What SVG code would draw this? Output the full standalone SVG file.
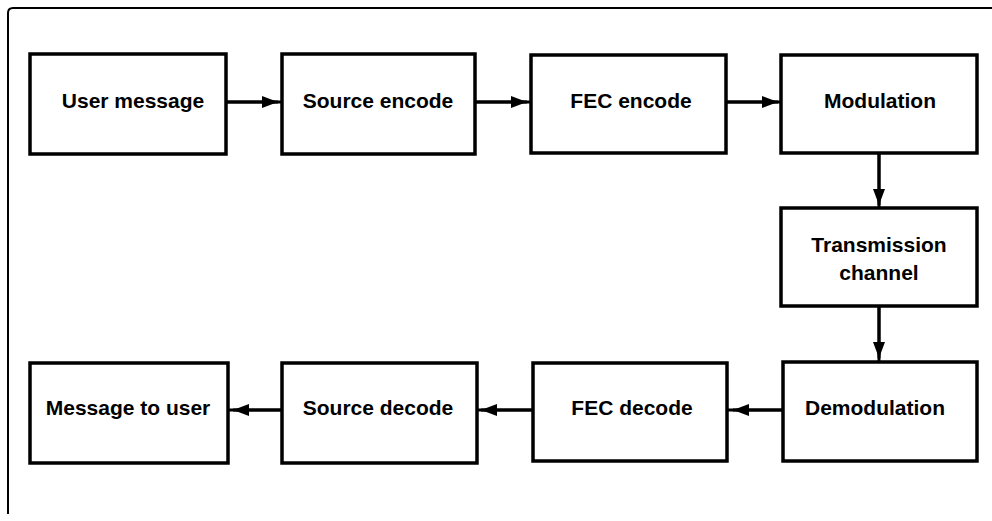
<svg xmlns="http://www.w3.org/2000/svg" width="992" height="521" viewBox="0 0 992 521">
<style>
.box{fill:#fff;stroke:#000;stroke-width:3.5}
.lbl{font-family:"Liberation Sans",Arial,sans-serif;font-size:21px;font-weight:bold;fill:#000;text-anchor:middle}
.ln{stroke:#000;stroke-width:3;fill:none}
.frame{stroke:#000;stroke-width:2;fill:none}
</style>
<defs>
<marker id="ah" viewBox="0 0 16 12" refX="16" refY="6" markerWidth="16" markerHeight="12" markerUnits="userSpaceOnUse" orient="auto">
<path d="M0,0 L16,6 L0,12 Z" fill="#000"/>
</marker>
</defs>
<path class="frame" d="M992,8 L13,8 Q8,8 8,13 L8,514"/>
<g id="n1"><rect class="box" x="30" y="54" width="196" height="100"/><text class="lbl" x="133" y="108">User message</text></g>
<g id="n2"><rect class="box" x="282" y="54" width="193" height="100"/><text class="lbl" x="378" y="108">Source encode</text></g>
<g id="n3"><rect class="box" x="531" y="55" width="195" height="98"/><text class="lbl" x="631" y="108">FEC encode</text></g>
<g id="n4"><rect class="box" x="781" y="55" width="196" height="98"/><text class="lbl" x="880" y="108">Modulation</text></g>
<g id="n5"><rect class="box" x="781" y="208" width="196" height="98"/><text class="lbl" x="879" y="252">Transmission</text><text class="lbl" x="879" y="280">channel</text></g>
<g id="n6"><rect class="box" x="783" y="362" width="194" height="99"/><text class="lbl" x="875" y="415">Demodulation</text></g>
<g id="n7"><rect class="box" x="533" y="363" width="194" height="98"/><text class="lbl" x="632" y="415">FEC decode</text></g>
<g id="n8"><rect class="box" x="282" y="363" width="195" height="100"/><text class="lbl" x="378" y="415">Source decode</text></g>
<g id="n9"><rect class="box" x="30" y="363" width="198" height="100"/><text class="lbl" x="128" y="415">Message to user</text></g>
<g id="connectors">
<line class="ln" x1="226" y1="102" x2="282" y2="102"/><line class="ln" x1="226" y1="102" x2="278" y2="102" marker-end="url(#ah)"/>
<line class="ln" x1="475" y1="102" x2="531" y2="102"/><line class="ln" x1="475" y1="102" x2="527" y2="102" marker-end="url(#ah)"/>
<line class="ln" x1="726" y1="102" x2="781" y2="102"/><line class="ln" x1="726" y1="102" x2="778" y2="102" marker-end="url(#ah)"/>
<line class="ln" x1="879" y1="153" x2="879" y2="208"/><line class="ln" x1="879" y1="153" x2="879" y2="205" marker-end="url(#ah)"/>
<line class="ln" x1="879" y1="306" x2="879" y2="362"/><line class="ln" x1="879" y1="306" x2="879" y2="358" marker-end="url(#ah)"/>
<line class="ln" x1="783" y1="410" x2="727" y2="410"/><line class="ln" x1="783" y1="410" x2="733" y2="410" marker-end="url(#ah)"/>
<line class="ln" x1="533" y1="410" x2="477" y2="410"/><line class="ln" x1="533" y1="410" x2="481" y2="410" marker-end="url(#ah)"/>
<line class="ln" x1="282" y1="410" x2="228" y2="410"/><line class="ln" x1="282" y1="410" x2="233" y2="410" marker-end="url(#ah)"/>
</g>
</svg>
